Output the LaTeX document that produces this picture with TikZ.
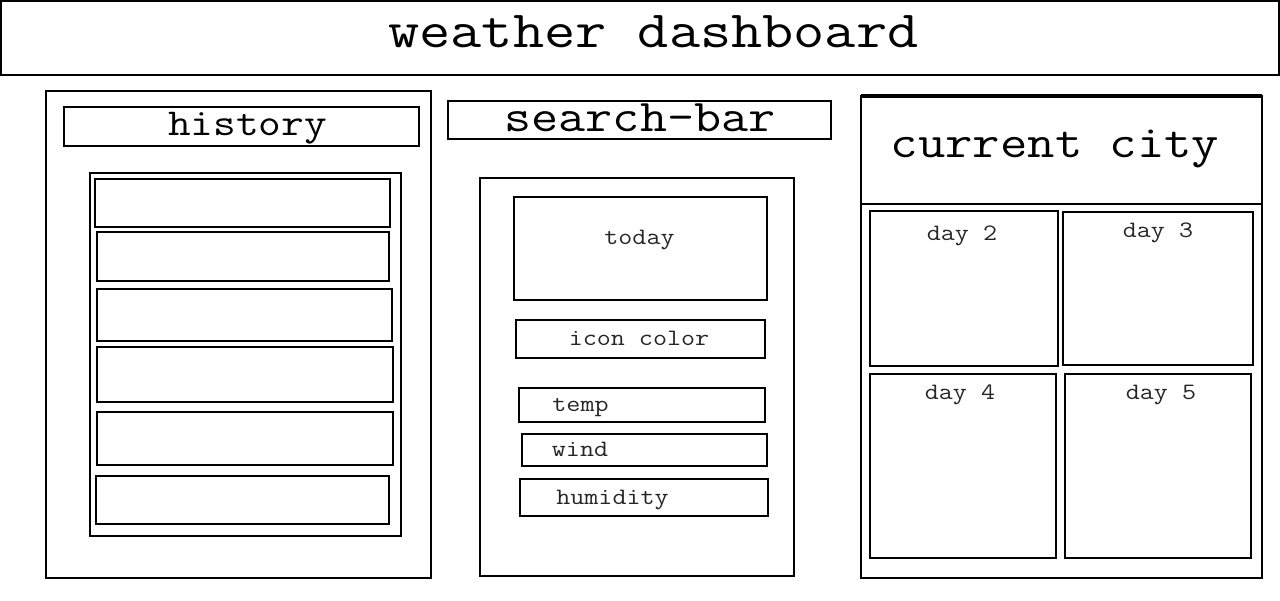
\documentclass[tikz,border=0pt]{standalone}
\usepackage{fontspec}
\newfontfamily\wiremono[FakeStretch=1.16]{Latin Modern Mono}
\tikzset{
  frame/.style={draw, line width=2pt, inner sep=0pt, outer sep=0pt, anchor=north west},
  lbl/.style={anchor=base, inner sep=0pt, text=black!85, font=\wiremono\fontsize{23.5}{23.5}\selectfont},
  biglbl/.style={anchor=base, inner sep=0pt, font=\wiremono\fontsize{#1}{#1}\selectfont},
}

\begin{document}
\begin{tikzpicture}[x=1pt,y=-1pt]
\useasboundingbox (0,0) rectangle (1280,600);

% page title
\node[frame, minimum width=1278, minimum height=74] (title) at (1,1) {};
\node[biglbl=52.2] (titletxt) at (653.5,47) {weather dashboard};

% left column: search history
\node[frame, minimum width=385, minimum height=487] (hist) at (46,91) {};
\node[frame, minimum width=355, minimum height=39] (histlbl) at (64,107) {};
\node[biglbl=38] (histtxt) at (247.5,135) {history};
\node[frame, minimum width=311, minimum height=363] (histlist) at (90,173) {};
\foreach \i/\x/\y/\w/\h in {1/95/179/295/48, 2/97/232/292/49, 3/97/289/295/52,
                            4/97/347/296/55, 5/97/412/296/53, 6/96/476/293/48} {
    \node[frame, minimum width=\w, minimum height=\h] (row\i) at (\x,\y) {};
}

% middle column: search bar and today
\node[frame, line width=1.6pt, minimum width=383, minimum height=38] (searchlbl) at (448,101) {};
\node[biglbl=45.3] (searchtxt) at (640,131) {search-bar};
\node[frame, minimum width=314, minimum height=398] (mid) at (480,178) {};
\node[frame, minimum width=253, minimum height=103] (today) at (514,197) {};
\node[lbl] (todaytxt) at (639.5,244) {today};
\node[frame, minimum width=249, minimum height=38] (icon) at (516,320) {};
\node[lbl] (icontxt) at (639,345) {icon color};
\node[frame, minimum width=246, minimum height=34] (temp) at (519,388) {};
\node[lbl] (temptxt) at (580.5,411) {temp};
\node[frame, minimum width=245, minimum height=32] (wind) at (522,434) {};
\node[lbl] (windtxt) at (580,456) {wind};
\node[frame, minimum width=248, minimum height=37] (humid) at (520,479) {};
\node[lbl] (humidtxt) at (612.5,504) {humidity};

% right column: current city and forecast
\node[frame, minimum width=401, minimum height=482] (city) at (861,96) {};
\draw[line width=4pt] (city.north west) -- (city.north east);
\coordinate (cut) at (861,204);
\draw[line width=2pt] (cut) -- (cut -| city.east);
\node[biglbl=45.8] (citytxt) at (1055,157) {current city};

\node[frame, minimum width=188, minimum height=155] (day2) at (870,211) {};
\node[frame, minimum width=190, minimum height=153] (day3) at (1063,212) {};
\node[frame, minimum width=186, minimum height=184] (day4) at (870,374) {};
\node[frame, minimum width=186, minimum height=184] (day5) at (1065,374) {};
\node[lbl] (day2txt) at (962,240) {day 2};
\node[lbl] (day3txt) at (1158,237) {day 3};
\node[lbl] (day4txt) at (960,399) {day 4};
\node[lbl] (day5txt) at (1161,399) {day 5};
\end{tikzpicture}
\end{document}
